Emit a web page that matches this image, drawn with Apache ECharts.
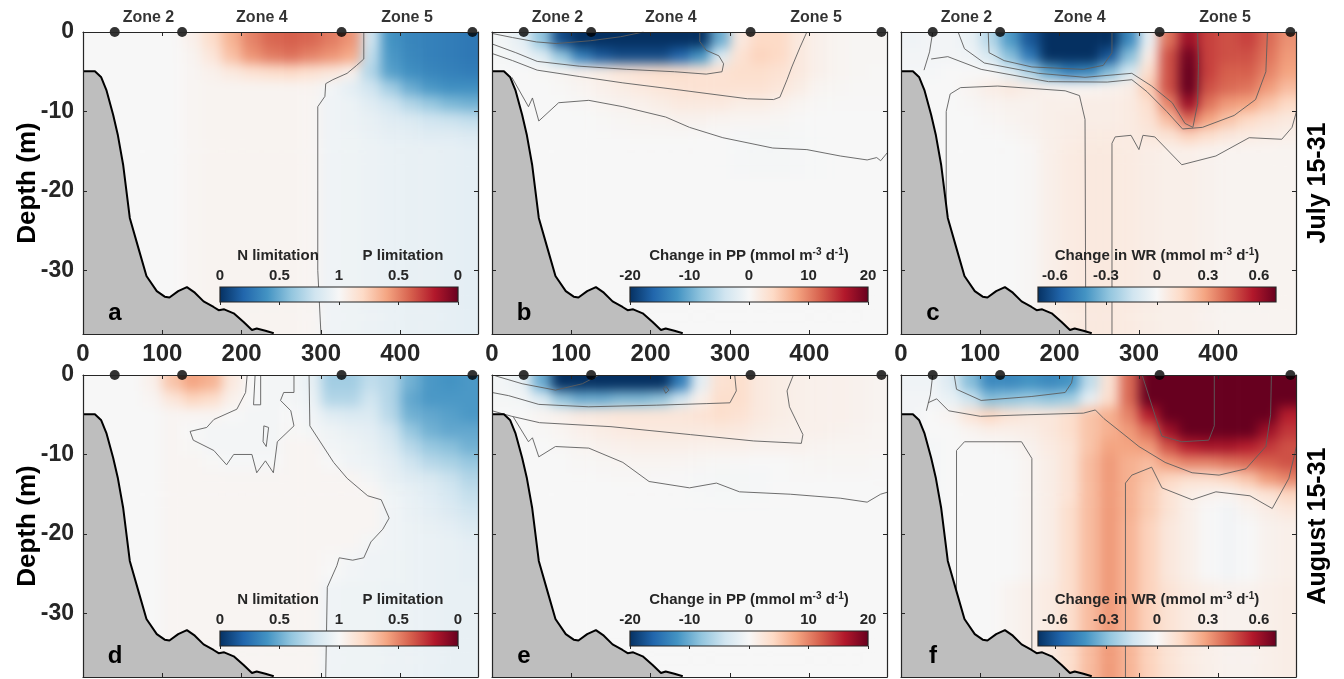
<!DOCTYPE html>
<html><head><meta charset="utf-8">
<script src="https://cdn.jsdelivr.net/npm/echarts@6/dist/echarts.min.js"></script>
<style>html,body{margin:0;padding:0;background:#fff}#wrap{position:relative;width:1344px;height:679px;overflow:hidden}#c{position:absolute;left:0;top:0;width:1344px;height:679px}</style>
</head><body><div id="wrap"><div id="c"></div></div>
<script>
// ---------------- data ----------------
const distanceKm = [12.5,37.5,62.5,87.5,112.5,137.5,162.5,187.5,212.5,237.5,262.5,287.5,312.5,337.5,362.5,387.5,412.5,437.5,462.5,487.5];
const depthM = [-1,-3,-5,-7,-9,-11,-13,-15,-17,-19,-21,-23,-25,-27,-29,-31,-33,-35,-37];
const xTicks = [0,100,200,300,400];
const depthTicks = [0,-10,-20,-30];
const zoneBoundaryKm = [40,125,326,491];
const zoneNames = ['Zone 2','Zone 4','Zone 5'];
const periodLabels = ['July 15-31','August 15-31'];
const panelLetters = ['a','b','c','d','e','f'];

const bathymetry = [[0,-4.95],[15,-4.95],[23,-5.7],[29.5,-7.3],[38,-10.4],[44,-13],[50.6,-16.7],[59,-23.4],[69.6,-27.1],[80,-30.7],[93,-32.6],[103,-33.3],[109,-33.4],[120,-32.6],[131,-32.1],[141,-32.8],[152,-33.9],[164.6,-34.6],[171,-35],[178,-34.9],[190,-35.4],[202.5,-36.5],[213,-37.5],[219,-37.3],[230,-37.6],[240.5,-37.9]];

// a: nutrient limitation, July (negative = N limitation, positive = P limitation)
const limJul = [
 [0,0,0,0,0,0.05,0.18,0.35,0.5,0.58,0.6,0.58,0.52,0.45,-0.2,-0.6,-0.66,-0.68,-0.7,-0.72],
 [0,0,0,0,0,0.03,0.12,0.3,0.45,0.52,0.55,0.5,0.45,0.38,-0.25,-0.58,-0.65,-0.68,-0.7,-0.72],
 [0,0,0,0,0,0.02,0.05,0.1,0.15,0.18,0.2,0.16,0.12,0.05,-0.3,-0.55,-0.62,-0.66,-0.68,-0.7],
 [0,0,0,0,0,0.02,0.03,0.03,0.03,0.03,0.03,0.03,-0.03,-0.1,-0.2,-0.35,-0.5,-0.58,-0.62,-0.62],
 [0,0,0,0,0,0.02,0.03,0.03,0.03,0.03,0.03,0.02,-0.04,-0.06,-0.12,-0.2,-0.3,-0.38,-0.45,-0.48],
 [0,0,0,0,0,0.02,0.03,0.03,0.03,0.03,0.03,0.02,-0.04,-0.06,-0.08,-0.12,-0.15,-0.2,-0.22,-0.25],
 [0,0,0,0,0,0.02,0.03,0.03,0.03,0.03,0.03,0.02,-0.04,-0.05,-0.07,-0.09,-0.1,-0.12,-0.12,-0.14],
 [0,0,0,0,0,0.02,0.03,0.03,0.03,0.03,0.03,0.02,-0.04,-0.05,-0.06,-0.07,-0.08,-0.08,-0.09,-0.1],
 [0,0,0,0,0,0.02,0.03,0.03,0.03,0.03,0.03,0.02,-0.04,-0.05,-0.06,-0.07,-0.08,-0.08,-0.09,-0.1],
 [0,0,0,0,0,0.02,0.03,0.03,0.03,0.03,0.03,0.02,-0.04,-0.05,-0.06,-0.07,-0.08,-0.08,-0.09,-0.1],
 [0,0,0,0,0,0.02,0.03,0.03,0.03,0.03,0.03,0.02,-0.04,-0.05,-0.06,-0.07,-0.08,-0.08,-0.09,-0.1],
 [0,0,0,0,0,0.02,0.03,0.03,0.03,0.03,0.03,0.02,-0.04,-0.05,-0.06,-0.07,-0.08,-0.08,-0.09,-0.1],
 [0,0,0,0,0,0.02,0.03,0.03,0.03,0.03,0.03,0.02,-0.04,-0.05,-0.06,-0.07,-0.08,-0.08,-0.09,-0.1],
 [0,0,0,0,0,0.02,0.03,0.03,0.03,0.03,0.03,0.02,-0.04,-0.05,-0.06,-0.07,-0.08,-0.08,-0.09,-0.1],
 [0,0,0,0,0,0.02,0.03,0.03,0.03,0.03,0.03,0.02,-0.04,-0.05,-0.06,-0.07,-0.08,-0.08,-0.09,-0.1],
 [0,0,0,0,0,0.02,0.03,0.03,0.03,0.03,0.03,0.02,-0.04,-0.05,-0.06,-0.07,-0.08,-0.08,-0.09,-0.1],
 [0,0,0,0,0,0.02,0.03,0.03,0.03,0.03,0.03,0.02,-0.04,-0.05,-0.06,-0.07,-0.08,-0.08,-0.09,-0.1],
 [0,0,0,0,0,0.02,0.03,0.03,0.03,0.03,0.03,0.02,-0.04,-0.05,-0.06,-0.07,-0.08,-0.08,-0.09,-0.1],
 [0,0,0,0,0,0.02,0.03,0.03,0.03,0.03,0.03,0.02,-0.04,-0.05,-0.06,-0.07,-0.08,-0.08,-0.09,-0.1]
];
// d: nutrient limitation, August
const limAug = [
 [0,0,0,0.05,0.28,0.4,0.35,0.1,0,-0.02,-0.02,-0.08,-0.35,-0.35,-0.25,-0.3,-0.48,-0.58,-0.6,-0.58],
 [0,0,0,0.02,0.12,0.22,0.18,0.05,0,-0.02,-0.02,-0.06,-0.3,-0.3,-0.2,-0.3,-0.52,-0.58,-0.58,-0.58],
 [0,0,0,0,0.02,0.02,0.02,0,-0.02,-0.02,0,-0.03,-0.12,-0.15,-0.15,-0.28,-0.48,-0.52,-0.55,-0.58],
 [0,0,0,0,0.02,0,-0.02,-0.02,-0.02,-0.02,0.01,-0.02,-0.05,-0.08,-0.1,-0.2,-0.38,-0.48,-0.52,-0.52],
 [0,0,0,0,0.02,0.01,-0.02,-0.02,-0.02,-0.02,0.02,0.02,-0.03,-0.05,-0.08,-0.15,-0.28,-0.38,-0.42,-0.48],
 [0,0,0,0,0.02,0.02,0.01,-0.01,-0.01,-0.01,0.02,0.02,0,-0.04,-0.06,-0.1,-0.2,-0.28,-0.32,-0.38],
 [0,0,0,0,0.02,0.02,0.02,0.02,0.02,0.02,0.02,0.02,0.02,0.02,-0.02,-0.08,-0.12,-0.16,-0.22,-0.3],
 [0,0,0,0,0.02,0.02,0.02,0.02,0.02,0.02,0.02,0.02,0.02,0.02,0.02,-0.05,-0.08,-0.12,-0.18,-0.24],
 [0,0,0,0,0.02,0.02,0.02,0.02,0.02,0.02,0.02,0.02,0.02,0.02,0.02,-0.03,-0.07,-0.1,-0.14,-0.2],
 [0,0,0,0,0.02,0.02,0.02,0.02,0.02,0.02,0.02,0.02,0.02,0.02,0.02,-0.04,-0.06,-0.08,-0.1,-0.15],
 [0,0,0,0,0.02,0.02,0.02,0.02,0.02,0.02,0.02,0.02,0.02,0.02,-0.02,-0.04,-0.06,-0.07,-0.08,-0.1],
 [0,0,0,0,0.02,0.02,0.02,0.02,0.02,0.02,0.02,0.02,0.01,-0.02,-0.04,-0.05,-0.06,-0.07,-0.08,-0.09],
 [0,0,0,0,0.02,0.02,0.02,0.02,0.02,0.02,0.02,0.02,0,-0.03,-0.04,-0.05,-0.06,-0.07,-0.08,-0.09],
 [0,0,0,0,0.02,0.02,0.02,0.02,0.02,0.02,0.02,0.02,-0.04,-0.05,-0.05,-0.06,-0.06,-0.07,-0.08,-0.08],
 [0,0,0,0,0.02,0.02,0.02,0.02,0.02,0.02,0.02,0.02,-0.04,-0.05,-0.05,-0.06,-0.06,-0.07,-0.08,-0.08],
 [0,0,0,0,0.02,0.02,0.02,0.02,0.02,0.02,0.02,0.02,-0.04,-0.05,-0.05,-0.06,-0.06,-0.07,-0.08,-0.08],
 [0,0,0,0,0.02,0.02,0.02,0.02,0.02,0.02,0.02,0.02,-0.04,-0.05,-0.05,-0.06,-0.06,-0.07,-0.08,-0.08],
 [0,0,0,0,0.02,0.02,0.02,0.02,0.02,0.02,0.02,0.02,-0.04,-0.05,-0.05,-0.06,-0.06,-0.07,-0.08,-0.08],
 [0,0,0,0,0.02,0.02,0.02,0.02,0.02,0.02,0.02,0.02,-0.04,-0.05,-0.05,-0.06,-0.06,-0.07,-0.08,-0.08]
];
// b: change in PP, July (mmol m-3 d-1)
const ppJul = [
 [-0.5,-2,-8,-18,-20,-20,-20,-20,-20,-20,-20,-10,2,4,4,2,1,0.5,0.3,0.3],
 [-0.3,-0.8,-2.5,-8,-14,-17,-18,-18,-18,-16,-12,-3,3,4.5,4,2,1,0.5,0.3,0.3],
 [0,0,0.2,0.5,1,1.5,2.5,3,3.5,3.5,3,3,3.5,3.5,3,2,1,0.5,0.3,0.2],
 [0,0,0,0.2,0.5,1,1.5,2,2.5,2.8,3,3,3,3,2.5,1.5,0.5,0.3,0.2,0.2],
 [0,0,0,0,0.2,0.5,0.8,1,1.5,2,2,2,1.5,1.5,1,0.5,0.2,0.1,0.1,0.1],
 [0,0,0,0,0,0.2,0.3,0.5,0.6,0.8,0.8,0.6,0.5,0.4,0.3,0.1,0,0,0,0],
 [0,0,0,0,0,0,0.1,0.2,0.2,0.2,0.1,0,-0.2,-0.3,-0.3,-0.2,0,0,0,0],
 [0,0,0,0,0,0,0,0,0,0,0,-0.1,-0.3,-0.4,-0.4,-0.3,-0.1,0,0,0],
 [0,0,0,0,0,0,0,0,0,0,0,0,-0.2,-0.3,-0.3,-0.2,-0.1,0,0,0],
 [0,0,0,0,0,0,0,0,0,0,0,0,0,0,0,0,0,0,0,0],
 [0,0,0,0,0,0,0,0,0,0,0,0,0,0,0,0,0,0,0,0],
 [0,0,0,0,0,0,0,0,0,0,0,0,0,0,0,0,0,0,0,0],
 [0,0,0,0,0,0,0,0,0,0,0,0,0,0,0,0,0,0,0,0],
 [0,0,0,0,0,0,0,0,0,0,0,0,0,0,0,0,0,0,0,0],
 [0,0,0,0,0,0,0,0,0,0,0,0,0,0,0,0,0,0,0,0],
 [0,0,0,0,0,0,0,0,0,0,0,0,0,0,0,0,0,0,0,0],
 [0,0,0,0,0,0,0,0,0,0,0,0,0,0,0,0,0,0,0,0],
 [0,0,0,0,0,0,0,0,0,0,0,0,0,0,0,0,0,0,0,0],
 [0,0,0,0,0,0,0,0,0,0,0,0,0,0,0,0,0,0,0,0]
];
// e: change in PP, August
const ppAug = [
 [-0.5,-1.5,-10,-20,-20,-20,-20,-20,-20,-14,-2,3,3.5,2,1.5,1.2,1,1,0.8,0.6],
 [-0.3,-0.5,-3,-8,-10,-10,-9,-9,-8,-4,1,3.5,3.5,2,1.5,1.2,1,1,0.8,0.6],
 [0,0,0.5,1,1.8,2.2,2.5,2.5,2.5,2.5,2.8,3.5,3,2,1.5,1.2,1,1,0.8,0.6],
 [0,0,0.2,0.5,1,1.5,1.8,2,2,2,2,2.2,2,1.5,1.2,1,1,0.8,0.7,0.5],
 [0,0,0,0.2,0.5,0.8,1,1.2,1.2,1.2,1,1,1,0.8,0.8,0.8,0.6,0.5,0.5,0.4],
 [0,0,0,0,0.2,0.3,0.4,0.5,0.5,0.4,0.3,0.2,0.1,0,0,0.2,0.3,0.3,0.3,0.2],
 [0,0,0,0,0,0.1,0.2,0.2,0.1,0,-0.2,-0.3,-0.3,-0.2,0,0.1,0.1,0.1,0.1,0.1],
 [0,0,0,0,0,0,0,0,0,-0.1,-0.2,-0.3,-0.3,-0.2,-0.1,0,0,0,0,0],
 [0,0,0,0,0,0,0,0,0,0,0,0,0,0,0,0,0,0,0,0],
 [0,0,0,0,0,0,0,0,0,0,0,0,0,0,0,0,0,0,0,0],
 [0,0,0,0,0,0,0,0,0,0,0,0,0,0,0,0,0,0,0,0],
 [0,0,0,0,0,0,0,0,0,0,0,0,0,0,0,0,0,0,0,0],
 [0,0,0,0,0,0,0,0,0,0,0,0,0,0,0,0,0,0,0,0],
 [0,0,0,0,0,0,0,0,0,0,0,0,0,0,0,0,0,0,0,0],
 [0,0,0,0,0,0,0,0,0,0,0,0,0,0,0,0,0,0,0,0],
 [0,0,0,0,0,0,0,0,0,0,0,0,0,0,0,0,0,0,0,0],
 [0,0,0,0,0,0,0,0,0,0,0,0,0,0,0,0,0,0,0,0],
 [0,0,0,0,0,0,0,0,0,0,0,0,0,0,0,0,0,0,0,0],
 [0,0,0,0,0,0,0,0,0,0,0,0,0,0,0,0,0,0,0,0]
];
// c: change in WR, July
const wrJul = [
 [-0.03,-0.02,-0.02,-0.05,-0.2,-0.4,-0.6,-0.7,-0.75,-0.75,-0.7,-0.45,-0.05,0.38,0.6,0.48,0.45,0.48,0.4,0.32],
 [-0.02,-0.02,-0.02,-0.03,-0.12,-0.3,-0.5,-0.7,-0.75,-0.75,-0.6,-0.3,0.05,0.45,0.68,0.48,0.45,0.45,0.38,0.3],
 [-0.01,-0.01,0,0,0,-0.08,-0.22,-0.38,-0.48,-0.45,-0.3,-0.12,0.12,0.45,0.72,0.48,0.42,0.42,0.35,0.28],
 [0,0,0,0.02,0.05,0.07,0.05,0.03,0.02,0.02,0.03,0.05,0.18,0.45,0.7,0.45,0.4,0.38,0.3,0.22],
 [0,0,0,0.01,0.02,0.03,0.03,0.04,0.04,0.05,0.05,0.06,0.12,0.35,0.6,0.38,0.3,0.28,0.2,0.14],
 [0,0,0,0,0.01,0.02,0.03,0.04,0.05,0.05,0.05,0.06,0.1,0.22,0.4,0.28,0.2,0.14,0.1,0.07],
 [0,0,0,0,0,0.01,0.02,0.04,0.05,0.06,0.06,0.06,0.08,0.1,0.16,0.12,0.08,0.06,0.05,0.04],
 [-0.01,0,0,0,0,0,0.01,0.04,0.06,0.07,0.07,0.06,0.05,0.04,0.04,0.03,0.02,0.02,0.02,0.02],
 [-0.01,0,0,0,0,0,0.01,0.04,0.06,0.07,0.07,0.06,0.05,0.04,0.04,0.03,0.02,0.02,0.02,0.02],
 [-0.01,0,0,0,0,0,0.01,0.04,0.06,0.07,0.07,0.06,0.05,0.04,0.04,0.03,0.02,0.02,0.02,0.02],
 [-0.01,0,0,0,0,0,0.01,0.04,0.06,0.07,0.07,0.06,0.05,0.04,0.04,0.03,0.02,0.02,0.02,0.02],
 [-0.01,0,0,0,0,0,0.01,0.04,0.06,0.07,0.07,0.06,0.05,0.04,0.04,0.03,0.02,0.02,0.02,0.02],
 [-0.01,0,0,0,0,0,0.01,0.04,0.06,0.07,0.07,0.06,0.05,0.04,0.04,0.03,0.02,0.02,0.02,0.02],
 [-0.01,0,0,0,0,0,0.01,0.04,0.06,0.07,0.07,0.06,0.05,0.04,0.04,0.03,0.02,0.02,0.02,0.02],
 [-0.01,0,0,0,0,0,0.01,0.04,0.06,0.07,0.07,0.06,0.05,0.04,0.04,0.03,0.02,0.02,0.02,0.02],
 [-0.01,0,0,0,0,0,0.01,0.04,0.06,0.07,0.07,0.06,0.05,0.04,0.04,0.03,0.02,0.02,0.02,0.02],
 [-0.01,0,0,0,0,0,0.01,0.04,0.06,0.07,0.07,0.06,0.05,0.04,0.04,0.03,0.02,0.02,0.02,0.02],
 [-0.01,0,0,0,0,0,0.01,0.04,0.06,0.07,0.07,0.06,0.05,0.04,0.04,0.03,0.02,0.02,0.02,0.02],
 [-0.01,0,0,0,0,0,0.01,0.04,0.06,0.07,0.07,0.06,0.05,0.04,0.04,0.03,0.02,0.02,0.02,0.02]
];
// f: change in WR, August
const wrAug = [
 [-0.03,-0.03,-0.1,-0.3,-0.45,-0.45,-0.42,-0.45,-0.42,-0.18,0.1,0.4,0.7,0.8,0.8,0.8,0.8,0.8,0.8,0.7],
 [-0.02,-0.02,-0.05,-0.15,-0.3,-0.28,-0.25,-0.28,-0.25,-0.06,0.12,0.4,0.7,0.8,0.8,0.8,0.8,0.8,0.8,0.7],
 [-0.02,0,0.02,0.1,0.15,0.1,0.08,0.08,0.12,0.2,0.25,0.35,0.55,0.75,0.8,0.8,0.8,0.8,0.72,0.55],
 [-0.02,0,0,0.02,0.04,0.04,0.05,0.08,0.12,0.2,0.25,0.3,0.4,0.6,0.75,0.78,0.8,0.75,0.6,0.5],
 [-0.02,-0.01,0,0,0,0.01,0.03,0.06,0.1,0.2,0.28,0.28,0.3,0.45,0.55,0.58,0.58,0.55,0.5,0.45],
 [-0.02,-0.01,0,0,0,0,0.02,0.05,0.1,0.22,0.3,0.25,0.22,0.3,0.35,0.35,0.38,0.4,0.42,0.45],
 [-0.02,-0.01,0,0,0,0,0.02,0.05,0.1,0.22,0.3,0.25,0.2,0.15,0.12,0.12,0.15,0.2,0.3,0.35],
 [-0.02,-0.01,0,0,0,0,0.02,0.05,0.1,0.22,0.3,0.25,0.18,0.1,0.05,0.03,0.02,0.06,0.1,0.15],
 [-0.02,-0.01,0,0,0,0,0.02,0.05,0.12,0.22,0.3,0.25,0.18,0.1,0.04,0,-0.02,0.02,0.05,0.08],
 [-0.02,-0.01,0,0,0,0,0.02,0.05,0.12,0.22,0.3,0.24,0.16,0.08,0.04,0,-0.02,0,0.03,0.04],
 [-0.02,-0.01,0,0,0,0,0.02,0.05,0.12,0.22,0.3,0.24,0.16,0.08,0.04,0,-0.02,0,0.03,0.04],
 [-0.02,-0.01,0,0,0,0,0.02,0.05,0.12,0.22,0.3,0.24,0.16,0.08,0.04,0,-0.02,0,0.03,0.04],
 [-0.02,-0.01,0,0,0,0,0.02,0.05,0.12,0.22,0.3,0.24,0.16,0.08,0.04,0,-0.02,0,0.03,0.04],
 [-0.02,-0.01,0,0,0,0.02,0.04,0.06,0.12,0.22,0.3,0.24,0.16,0.1,0.06,0.04,0.03,0.03,0.04,0.05],
 [-0.02,-0.01,0,0,0,0.02,0.04,0.06,0.12,0.22,0.3,0.24,0.16,0.1,0.06,0.04,0.03,0.03,0.04,0.05],
 [-0.02,-0.01,0,0,0,0.02,0.04,0.06,0.12,0.22,0.3,0.24,0.16,0.1,0.06,0.04,0.03,0.03,0.04,0.05],
 [-0.02,-0.01,0,0,0,0.02,0.04,0.06,0.12,0.22,0.3,0.24,0.16,0.1,0.06,0.04,0.03,0.03,0.04,0.05],
 [-0.02,-0.01,0,0,0,0.02,0.04,0.06,0.12,0.22,0.3,0.24,0.16,0.1,0.06,0.04,0.03,0.03,0.04,0.05],
 [-0.02,-0.01,0,0,0,0.02,0.04,0.06,0.12,0.22,0.3,0.24,0.16,0.1,0.06,0.04,0.03,0.03,0.04,0.05]
];

// contour lines [distance km, depth m]
const contoursA = [
 [[354,0],[354,-3.4],[345,-4.2],[333,-5.2],[315,-6.0],[306,-6.5],[305,-8.1],[296,-9.4],[296,-20],[296,-30],[300,-38]]
];
const contoursD = [
 [[285,0],[286,-6.4],[316,-11],[333,-13],[359,-15.2],[376,-15.7],[386,-18],[378,-19.4],[363,-21],[354,-23],[340,-23.3],[323,-23],[320,-24],[308,-26.7],[306,-38]],
 [[207,0],[205,-2.2],[194,-4.3],[165,-5.6],[156,-6.6],[135,-7.1],[139,-8.2],[165,-9.5],[181,-11.3],[190,-10],[213,-10],[219,-12.3],[230,-10.8],[240,-12.3],[245,-8.4],[266,-6.4],[262,-4.5],[249,-3.2],[253,-2.2],[266,-2.2],[266,0]],
 [[217,0],[215,-3.75],[224,-3.75],[224,0]],
 [[228,-6.4],[227,-8.4],[231,-9],[234,-6.6],[228,-6.4]]
];
const contoursB = [
 [[1,-0.2],[26,-0.7],[56,-1.25],[81,-1.45],[124,-1.1],[162,-0.6],[191,0]],
 [[0,-1.5],[30,-2.6],[57,-3.7],[110,-4.3],[170,-4.7],[230,-5.0],[270,-5.3],[290,-5.0],[292,-4],[286,-3],[270,-2.3],[262,-1.2],[262,0]],
 [[0,-2.7],[26,-3.6],[57,-4.8],[110,-5.6],[165,-6.4],[237,-7.3],[322,-8.4],[355,-8.5],[363,-8.2],[372,-6],[378,-4.4],[388,-2],[397,0]],
 [[25,-5.7],[46,-9.4],[51,-8.3],[59,-11.2],[84,-8.9],[122,-8.6],[165,-9.4],[219,-10.7],[249,-12],[291,-13.3],[354,-14.6],[397,-14.8],[439,-15.6],[473,-16.1],[485,-15.8],[490,-16.2],[500,-15]]
];
const contoursE = [
 [[4,-0.1],[38,-1.1],[80,-1.9],[114,-1.1],[135,0]],
 [[0,-2.2],[21,-2.6],[59,-3.7],[122,-4.0],[207,-3.8],[270,-3.6],[300,-3.5],[308,-2],[306,0]],
 [[0,-4.5],[25,-5.2],[60,-6.0],[150,-6.5],[250,-7.5],[330,-8.3],[390,-8.6],[392,-7.5],[375,-4.0],[372,-2],[380,0]],
 [[27,-5.3],[46,-8.4],[51,-7.9],[59,-10.3],[80,-9],[122,-9.2],[165,-11],[198,-13.4],[249,-14.2],[283,-13.6],[312,-14.7],[376,-15],[439,-15.5],[473,-16],[490,-15],[500,-14.7]],
 [[216,-1.7],[219,-2.3],[223,-1.9],[219,-1.4],[216,-1.7]]
];
const contoursC = [
 [[40,0],[36,-2.5],[29,-4.8]],
 [[110,0],[111,-2.6],[130,-3.6],[165,-4.4],[230,-4.7],[255,-4.2],[266,-2.6],[266,0]],
 [[72,0],[80,-2.1],[105,-3.9],[173,-5.2],[232,-5.7],[291,-5.2],[316,-6.8],[342,-8.9],[358,-11.5],[368,-12],[374,-9],[375,-4],[374,0]],
 [[38,-3.4],[59,-3.1],[101,-4.7],[186,-6.25],[260,-6.3],[291,-6.0],[310,-7.5],[335,-10],[355,-12.2],[380,-12.0],[420,-10.5],[447,-8.5],[460,-5],[462,0]],
 [[57,-30],[57,-10],[62,-7.8],[75,-7.0],[122,-6.8],[207,-7.4],[225,-8],[232,-11],[233,-38]],
 [[266,-38],[266,-14],[270,-13.2],[290,-13],[300,-14.8],[305,-13],[320,-13.2],[354,-16.7],[397,-15.6],[439,-13.3],[480,-13.5],[493,-12],[500,-9.5]]
];
const contoursF = [
 [[40,0],[37,-2.5],[32,-4.5]],
 [[67,0],[70,-1.8],[101,-3.2],[165,-2.7],[207,-2.2],[215,-1],[217,0]],
 [[34,-3.5],[45,-3.0],[60,-4.5],[100,-5.2],[160,-5.0],[230,-4.8],[245,-4.4],[256,-5.5],[275,-7],[300,-9],[333,-11],[367,-12.3],[401,-12.6],[435,-11.8],[460,-9],[466,-5],[467,0]],
 [[304,0],[321,-5.3],[329,-7.7],[354,-8.4],[388,-8.2],[395,-6.4],[395,0]],
 [[70,-38],[70,-9.5],[80,-8.4],[152,-8.4],[165,-10.5],[165,-38]],
 [[283,-38],[283,-13.6],[291,-12.6],[316,-11.6],[329,-14.2],[367,-15.7],[397,-14.7],[440,-15.2],[468,-16.8],[489,-13],[500,-8.4]]
];

// colour bar definitions
const cbLimTicks = [-1,-0.5,0,0.5,1];
const cbLimLabels = ['0','0.5','1','0.5','0'];
const cbPPTicks = [-20,-10,0,10,20];
const cbPPLabels = ['-20','-10','0','10','20'];
const cbWRTicks = [-0.6,-0.3,0,0.3,0.6];
const cbWRLabels = ['-0.6','-0.3','0','0.3','0.6'];

// ---------------- layout / style ----------------
const FONT = '"Liberation Sans", Arial, Helvetica, sans-serif';
const INK = '#262626';
const RDBU = ['#053061','#2166ac','#4393c3','#92c5de','#d1e5f0','#f7f7f7','#fddbc7','#f4a582','#d6604d','#b2182b','#67001f'];
const COL_LEFT = [83, 492, 901], ROW_TOP = [32, 375], PW = 395, PH = 302;
const CB_LEFT = [220, 630, 1038], CB_TOP = [287, 631], CB_W = 238, CB_H = 15;
const X_MAX = 498, Y_MIN = -38, Y_MAX = 0;
const HALF_DX = (distanceKm[1] - distanceKm[0]) / 2;
const HALF_DY = Math.abs(depthM[1] - depthM[0]) / 2;
const SMOOTH_PX = 6, PAD = 24;   // display smoothing of the gridded field

const colorbars = {
  lim: {range:[-1,1], ticks:cbLimTicks, labels:cbLimLabels,
        titles:[{text:'N limitation', dx:58}, {text:'P limitation', dx:183}]},
  pp:  {range:[-20,20], ticks:cbPPTicks, labels:cbPPLabels,
        titles:[{text:'Change in PP (mmol m{sup|-3} d{sup|-1})', dx:CB_W/2}]},
  wr:  {range:[-0.7,0.7], ticks:cbWRTicks, labels:cbWRLabels,
        titles:[{text:'Change in WR (mmol m{sup|-3} d{sup|-1})', dx:CB_W/2}]}
};
const panels = [
  {col:0,row:0, field:limJul, cb:'lim', contours:contoursA},
  {col:1,row:0, field:ppJul,  cb:'pp',  contours:contoursB},
  {col:2,row:0, field:wrJul,  cb:'wr',  contours:contoursC},
  {col:0,row:1, field:limAug, cb:'lim', contours:contoursD},
  {col:1,row:1, field:ppAug,  cb:'pp',  contours:contoursE},
  {col:2,row:1, field:wrAug,  cb:'wr',  contours:contoursF}
];

// cells at the panel border are extended outward so the smoothing does not fade the edges
function renderCell(params, api) {
  const x = api.value(0), y = api.value(1);
  const a = api.coord([x - HALF_DX, y + HALF_DY]);
  const b = api.coord([x + HALF_DX, y - HALF_DY]);
  let x0 = a[0], y0 = a[1], x1 = b[0] + 0.6, y1 = b[1] + 0.6;
  if (x - HALF_DX <= 0) x0 -= PAD;
  if (x + HALF_DX >= X_MAX) x1 += PAD;
  if (y + HALF_DY >= Y_MAX) y0 -= PAD;
  if (y - HALF_DY <= Y_MIN) y1 += PAD;
  return {type:'rect', shape:{x:x0, y:y0, width:x1-x0, height:y1-y0}, style:{fill:api.visual('color')}};
}

const wrap = document.getElementById('wrap');
const mainDiv = document.getElementById('c');
const grids = [], xAxes = [], yAxes = [], series = [], graphics = [];
const axisLine = {show:true, onZero:false, lineStyle:{color:INK, width:1.2}};
const txt = (extra) => Object.assign({fill:INK, fontFamily:FONT, fontWeight:'bold', textAlign:'center', textVerticalAlign:'middle'}, extra);

panels.forEach((p, k) => {
  const left = COL_LEFT[p.col], top = ROW_TOP[p.row];
  const cb = colorbars[p.cb];

  // ----- field layer (own ECharts instance, softened with a blur like an interpolated shading) -----
  const clip = document.createElement('div');
  clip.style.cssText = `position:absolute;left:${left}px;top:${top}px;width:${PW}px;height:${PH}px;overflow:hidden;`;
  const inner = document.createElement('div');
  inner.style.cssText = `position:absolute;left:${-PAD}px;top:${-PAD}px;width:${PW+2*PAD}px;height:${PH+2*PAD}px;filter:blur(${SMOOTH_PX}px);`;
  clip.appendChild(inner);
  wrap.insertBefore(clip, mainDiv);
  const cells = [];
  p.field.forEach((row, i) => row.forEach((v, j) => cells.push([distanceKm[j], depthM[i], v])));
  echarts.init(inner).setOption({
    animation:false,
    grid:{left:PAD, top:PAD, width:PW, height:PH, show:false},
    xAxis:{type:'value', min:0, max:X_MAX, show:false},
    yAxis:{type:'value', min:Y_MIN, max:Y_MAX, show:false},
    visualMap:{type:'continuous', show:false, seriesIndex:0, dimension:2, min:cb.range[0], max:cb.range[1], inRange:{color:RDBU}},
    series:[{type:'custom', clip:false, silent:true, renderItem:renderCell, encode:{x:0, y:1}, data:cells}]
  });

  // ----- axes, contours, bathymetry, markers on the main chart -----
  const gi = grids.length;
  grids.push({left, top, width:PW, height:PH, show:false});
  const xb = xAxes.length, yb = yAxes.length;
  xAxes.push({gridIndex:gi, type:'value', min:0, max:X_MAX, position:'bottom', z:10, axisLine,
    axisTick:{show:true, inside:true, length:4, customValues:xTicks, lineStyle:{color:INK}},
    axisLabel:{show:p.row === 0, customValues:xTicks, margin:8, color:INK, fontSize:24, fontWeight:'bold', fontFamily:FONT},
    splitLine:{show:false}});
  xAxes.push({gridIndex:gi, type:'value', min:0, max:X_MAX, position:'top', z:10, axisLine,
    axisTick:{show:true, inside:true, length:4, customValues:xTicks, lineStyle:{color:INK}},
    axisLabel:{show:false}, splitLine:{show:false}});
  yAxes.push({gridIndex:gi, type:'value', min:Y_MIN, max:Y_MAX, position:'left', z:10, axisLine,
    axisTick:{show:true, inside:true, length:4, customValues:depthTicks, lineStyle:{color:INK}},
    axisLabel:{show:p.col === 0, customValues:depthTicks, margin:9, color:INK, fontSize:23, fontWeight:'bold', fontFamily:FONT},
    splitLine:{show:false}});
  yAxes.push({gridIndex:gi, type:'value', min:Y_MIN, max:Y_MAX, position:'right', z:10, axisLine,
    axisTick:{show:true, inside:true, length:4, customValues:depthTicks, lineStyle:{color:INK}},
    axisLabel:{show:false}, splitLine:{show:false}});

  p.contours.forEach(c => series.push({type:'line', xAxisIndex:xb, yAxisIndex:yb, z:2, silent:true,
    symbol:'none', data:c, lineStyle:{color:'#5e5e5e', width:0.9}, clip:true}));
  series.push({type:'line', xAxisIndex:xb, yAxisIndex:yb, z:3, silent:true, symbol:'none', data:bathymetry,
    lineStyle:{color:'#000', width:2}, areaStyle:{color:'#bebebe', opacity:1, origin:'start'}});
  series.push({type:'scatter', xAxisIndex:xb, yAxisIndex:yb, z:6, clip:false, silent:true, symbolSize:10,
    itemStyle:{color:'#000'}, data:zoneBoundaryKm.map(x => [x, 0])});
  if (p.row === 0) {
    const mids = zoneNames.map((n, i) => [(zoneBoundaryKm[i] + zoneBoundaryKm[i+1]) / 2, 0]);
    series.push({type:'scatter', xAxisIndex:xb, yAxisIndex:yb, z:6, clip:false, silent:true, symbolSize:0,
      data:mids, label:{show:true, position:'top', distance:6, formatter:(d) => zoneNames[d.dataIndex],
      color:'#000', fontSize:16, fontWeight:'bold', fontFamily:FONT}});
  }

  // colour bar
  const cg = grids.length;
  const cbLeft = CB_LEFT[p.col], cbTop = CB_TOP[p.row];
  grids.push({left:cbLeft, top:cbTop, width:CB_W, height:CB_H, show:true, z:20,
    backgroundColor:{type:'linear', x:0, y:0, x2:1, y2:0, colorStops:RDBU.map((c, i) => ({offset:i/(RDBU.length-1), color:c}))},
    borderColor:INK, borderWidth:1.2});
  xAxes.push({gridIndex:cg, type:'value', min:cb.range[0], max:cb.range[1], position:'top', z:21,
    axisLine:{show:false},
    axisTick:{show:true, inside:true, length:3, customValues:cb.ticks, lineStyle:{color:INK}},
    axisLabel:{show:true, customValues:cb.ticks, margin:4, color:INK, fontSize:15, fontWeight:'bold', fontFamily:FONT,
      formatter:(v) => { const i = cb.ticks.findIndex(t => Math.abs(t - v) < 1e-9); return i >= 0 ? cb.labels[i] : ''; }},
    splitLine:{show:false}});
  yAxes.push({gridIndex:cg, type:'value', min:0, max:1, show:false});
  cb.titles.forEach(t => graphics.push({type:'text', x:cbLeft + t.dx, y:cbTop - 31, z:30,
    style:txt({text:t.text, fontSize:15, rich:{sup:{fontSize:10, fontWeight:'bold', fontFamily:FONT, fill:INK, padding:[0,0,8,0]}}})}));

  graphics.push({type:'text', x:left + 32, y:top + 281, z:30, style:txt({text:panelLetters[k], fontSize:24, fill:'#000'})});
});

ROW_TOP.forEach((top, r) => {
  graphics.push({type:'text', x:28, y:top + PH/2, rotation:Math.PI/2, z:30, style:txt({text:'Depth (m)', fontSize:26, fill:'#000'})});
  graphics.push({type:'text', x:1318, y:top + PH/2, rotation:Math.PI/2, z:30, style:txt({text:periodLabels[r], fontSize:25, fill:'#000'})});
});

const chart = echarts.init(mainDiv, null, {renderer:'canvas'});
chart.setOption({
  backgroundColor:'transparent', animation:false,
  grid:grids, xAxis:xAxes, yAxis:yAxes, series, graphic:{elements:graphics}
});
</script></body></html>
